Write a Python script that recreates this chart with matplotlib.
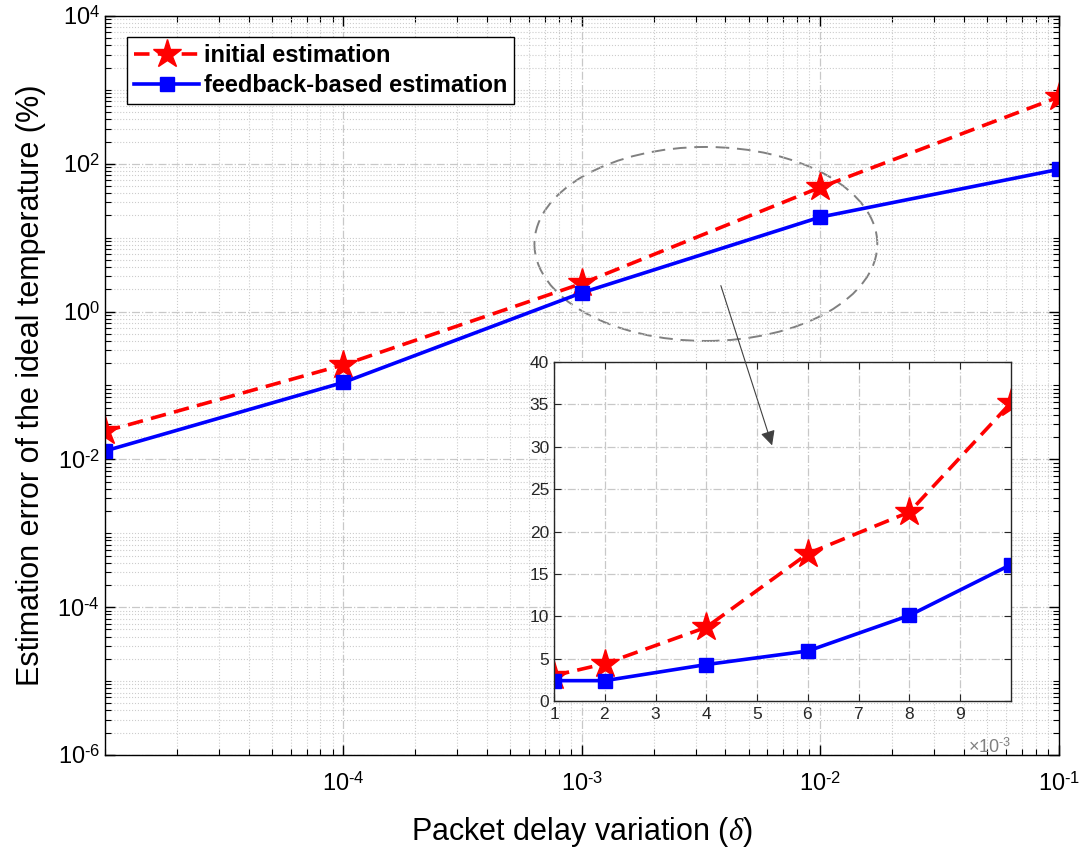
import numpy as np
import matplotlib
matplotlib.use('Agg')
from matplotlib import pyplot as plt
from matplotlib.patches import Ellipse, FancyArrowPatch
from matplotlib.ticker import LogLocator, ScalarFormatter, NullFormatter, FuncFormatter

plt.rcParams['font.family'] = ['Liberation Sans', 'DejaVu Sans']
plt.rcParams['axes.unicode_minus'] = False
plt.rcParams['mathtext.fontset'] = 'custom'
plt.rcParams['mathtext.rm'] = 'Liberation Sans'
plt.rcParams['mathtext.it'] = 'Liberation Serif:italic'

# main plot data (log-log)
delay = [1e-5, 1e-4, 1e-3, 1e-2, 1e-1]
err_initial = [0.024, 0.19, 2.4, 48, 800]
err_feedback = [0.013, 0.11, 1.8, 19, 84]

# zoomed data (delay in the 1e-3 .. 1e-2 range)
delay_zoom = [1e-3, 2e-3, 4e-3, 6e-3, 8e-3, 10e-3]
zoom_initial = [3.0, 4.4, 8.7, 17.4, 22.3, 35.2]
zoom_feedback = [2.4, 2.4, 4.3, 5.9, 10.1, 16.1]

RED = '#ff0000'
BLUE = '#0000ff'


def pow10(v, pos):
    # MATLAB style 10^n with a short hyphen
    e = int(round(np.log10(v)))
    s = str(e).replace('-', '\u2010')
    return '10$^{\\mathrm{' + s + '}}$'


fig = plt.figure(figsize=(10.85, 8.5), dpi=100)
ax = fig.add_axes([0.0968, 0.1118, 0.879, 0.8694])

ax.loglog(delay, err_initial, color=RED, lw=2.6, dashes=(4.3, 2.3),
          marker='*', ms=21, mec=RED, mfc=RED, label='initial estimation')
ax.loglog(delay, err_feedback, color=BLUE, lw=2.6,
          marker='s', ms=10, mec=BLUE, mfc=BLUE, label='feedback-based estimation')

ax.set_xlim(1e-5, 1e-1)
ax.set_ylim(1e-6, 1e4)
ax.set_xticks([1e-4, 1e-3, 1e-2, 1e-1])
ax.set_yticks([1e-6, 1e-4, 1e-2, 1e0, 1e2, 1e4])
ax.xaxis.set_major_formatter(FuncFormatter(pow10))
ax.yaxis.set_major_formatter(FuncFormatter(pow10))
ax.xaxis.set_minor_locator(LogLocator(base=10, subs=np.arange(1, 10), numticks=50))
ax.yaxis.set_minor_locator(LogLocator(base=10, subs=np.arange(1, 10), numticks=50))
ax.xaxis.set_minor_formatter(NullFormatter())
ax.yaxis.set_minor_formatter(NullFormatter())
ax.tick_params(which='both', direction='in', top=True, right=True, colors='black')
ax.tick_params(which='major', length=7, width=1, labelsize=17)
ax.tick_params(axis='x', which='major', pad=12)
ax.tick_params(which='minor', length=4, width=0.8)
ax.grid(True, which='major', color='#c8c8c8', lw=0.9, ls='-.')
ax.grid(True, which='minor', color='#cccccc', lw=0.8, ls=':')
for s in ax.spines.values():
    s.set_linewidth(1.0)

ax.set_xlabel('Packet delay variation ($\\delta$)', fontsize=22, labelpad=14)
ax.set_ylabel('Estimation error of the ideal temperature (%)', fontsize=22, labelpad=8)

leg = ax.legend(loc='upper left', bbox_to_anchor=(0.023, 0.9716), borderaxespad=0,
                prop={'weight': 'bold', 'size': 17}, fancybox=False, framealpha=1,
                edgecolor='black', handlelength=2.75, borderpad=0.3, labelspacing=0.3,
                handletextpad=0.2)
leg.get_frame().set_linewidth(1.0)

# dashed ellipse around the zoomed region
ax.add_patch(Ellipse((0.630, 0.6915), 0.3595, 0.2625, transform=ax.transAxes,
                     fill=False, ec='#808080', lw=1.4, ls=(0, (7, 4))))

# inset
ins = fig.add_axes([0.5106, 0.1753, 0.4212, 0.3988])
ins.plot(delay_zoom, zoom_initial, color=RED, lw=2.6, dashes=(4.3, 2.3),
         marker='*', ms=21, mec=RED, mfc=RED)
ins.plot(delay_zoom, zoom_feedback, color=BLUE, lw=2.6,
         marker='s', ms=10, mec=BLUE, mfc=BLUE)
ins.set_xlim(1e-3, 1e-2)
ins.set_ylim(0, 40)
ins.set_xticks(np.arange(1, 10) * 1e-3)
ins.set_yticks(np.arange(0, 41, 5))
fmt = ScalarFormatter(useMathText=True)
fmt.set_powerlimits((-2, 2))
ins.xaxis.set_major_formatter(fmt)
ins.xaxis.get_offset_text().set_visible(False)
ins.tick_params(direction='in', top=True, right=True, length=5, labelsize=12.5,
                colors='#262626')
ins.grid(True, color='#c8c8c8', lw=0.9, ls='-.')
for s in ins.spines.values():
    s.set_color('#262626')
    s.set_linewidth(1.0)
ins.text(1.0, -0.165, '\u00d710$^{\\mathrm{\u20103}}$', transform=ins.transAxes,
         ha='right', va='bottom', fontsize=13, color='#808080')

# arrow from the ellipse into the inset
fig.add_artist(FancyArrowPatch((0.6636, 0.6671), (0.7124, 0.4729),
                               transform=fig.transFigure, arrowstyle='-|>',
                               mutation_scale=22, color='#404040', lw=0.8))

fig.savefig('out.png', dpi=100)
